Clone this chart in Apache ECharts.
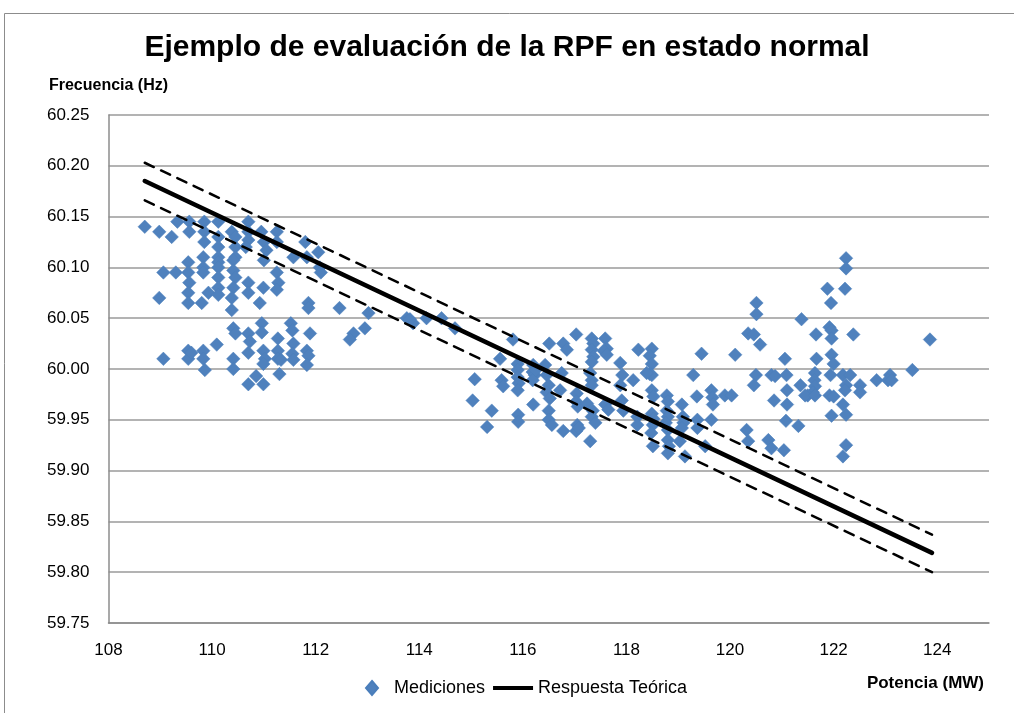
<!DOCTYPE html>
<html>
<head>
<meta charset="utf-8">
<title>Ejemplo de evaluación de la RPF en estado normal</title>
<script src="https://cdn.jsdelivr.net/npm/echarts@6/dist/echarts.min.js"></script>
<style>
  html, body { margin: 0; padding: 0; background: #fff; }
  #chart { width: 1014px; height: 713px; }
</style>
</head>
<body>
<div id="chart"></div>
<script>
const medicionesIzq = [
  [108.70, 60.140], [108.98, 60.135], [109.22, 60.130], [109.33, 60.145], [109.56, 60.145], [109.56, 60.135],
  [109.85, 60.145], [109.85, 60.135], [109.85, 60.125], [110.12, 60.145], [110.12, 60.130], [110.12, 60.120],
  [110.12, 60.110], [110.38, 60.135], [110.45, 60.130], [110.45, 60.120], [110.45, 60.110], [110.70, 60.145],
  [110.70, 60.135], [110.70, 60.127], [110.65, 60.120], [110.95, 60.135], [111.00, 60.125], [111.05, 60.117],
  [111.00, 60.107], [111.25, 60.135], [111.25, 60.125], [111.80, 60.125], [111.57, 60.110], [111.83, 60.110],
  [112.05, 60.115], [112.08, 60.100], [112.10, 60.095],
  [109.06, 60.095], [109.30, 60.095], [109.54, 60.105], [109.54, 60.095], [109.56, 60.085], [109.54, 60.075],
  [109.54, 60.065], [109.83, 60.110], [109.83, 60.100], [109.83, 60.095], [109.80, 60.065], [109.93, 60.075],
  [110.12, 60.105], [110.12, 60.100], [110.12, 60.090], [110.12, 60.080], [110.12, 60.073], [110.41, 60.107],
  [110.41, 60.097], [110.45, 60.090], [110.41, 60.080], [110.38, 60.070], [110.38, 60.058], [110.70, 60.085],
  [110.70, 60.075], [110.99, 60.080], [110.92, 60.065], [111.25, 60.095], [111.28, 60.085], [111.25, 60.078],
  [111.86, 60.065], [111.86, 60.060], [108.98, 60.070],
  [110.41, 60.040], [110.45, 60.035], [110.70, 60.035], [110.73, 60.027], [110.70, 60.016], [110.96, 60.045],
  [110.96, 60.036], [110.09, 60.024], [109.06, 60.010], [109.54, 60.018], [109.54, 60.010], [109.60, 60.016],
  [109.83, 60.018], [109.83, 60.010], [109.86, 59.999], [110.41, 60.010], [110.41, 60.000], [110.99, 60.018],
  [111.02, 60.010], [110.99, 60.005], [111.27, 60.030], [111.27, 60.018], [111.27, 60.010], [111.33, 60.009],
  [111.30, 59.995], [111.52, 60.045], [111.55, 60.038], [111.57, 60.025], [111.55, 60.015], [111.57, 60.009],
  [111.89, 60.035], [111.83, 60.018], [111.86, 60.013], [111.83, 60.004], [110.70, 59.985], [110.99, 59.985],
  [110.85, 59.993]
];

const medicionesCentro = [
  [112.46, 60.060], [113.02, 60.055], [112.95, 60.040], [112.73, 60.035], [112.66, 60.029], [113.76, 60.050],
  [113.88, 60.045], [113.82, 60.049], [114.14, 60.050], [114.43, 60.050], [114.69, 60.040], [115.07, 59.990],
  [115.56, 60.010], [115.81, 60.029], [116.51, 60.025], [116.78, 60.025], [116.85, 60.019], [117.03, 60.034],
  [117.33, 60.030], [117.36, 60.025], [117.33, 60.019], [117.36, 60.012], [117.33, 60.007], [117.59, 60.030],
  [117.62, 60.020], [117.56, 60.018], [117.62, 60.014], [118.23, 60.019], [118.49, 60.020], [118.45, 60.013],
  [118.49, 60.005], [118.45, 59.995], [118.49, 59.994], [119.45, 60.015], [119.29, 59.994],
  [115.90, 60.005], [115.90, 59.999], [115.90, 59.992], [115.92, 59.986], [115.90, 59.979], [115.03, 59.969],
  [115.40, 59.959], [115.31, 59.943], [115.59, 59.989], [115.62, 59.983], [116.20, 60.004], [116.19, 59.997],
  [116.23, 59.994], [116.19, 59.989], [116.25, 59.999], [116.43, 60.004], [116.46, 59.994], [116.50, 59.984],
  [116.46, 59.977], [116.52, 59.971], [116.50, 59.959], [116.50, 59.950], [116.56, 59.945], [116.20, 59.965],
  [115.91, 59.955], [115.91, 59.948], [116.75, 59.996], [116.72, 59.979], [116.78, 59.939], [117.04, 59.976],
  [117.03, 59.968], [117.06, 59.963], [117.05, 59.945], [117.03, 59.939], [117.08, 59.942], [117.30, 59.996],
  [117.33, 59.989], [117.33, 59.984], [117.24, 59.966], [117.35, 59.959], [117.33, 59.953], [117.40, 59.947],
  [117.30, 59.929], [117.59, 59.965], [117.65, 59.960], [117.88, 60.006], [117.92, 59.994], [117.88, 59.984],
  [117.91, 59.969], [117.94, 59.959], [118.13, 59.989], [118.21, 59.953], [118.21, 59.945], [118.39, 59.996],
  [118.49, 59.979], [118.52, 59.973], [118.49, 59.956], [118.52, 59.951], [118.51, 59.945], [118.48, 59.937],
  [118.51, 59.924], [118.78, 59.974], [118.80, 59.968], [118.78, 59.959], [118.80, 59.953], [118.76, 59.947],
  [118.80, 59.940], [118.80, 59.930], [118.82, 59.924], [118.80, 59.917], [119.07, 59.965], [119.09, 59.953],
  [119.10, 59.947], [119.07, 59.942], [119.13, 59.914], [119.37, 59.950], [119.37, 59.942], [119.36, 59.973],
  [119.03, 59.929], [119.52, 59.924]
];

const medicionesDer = [
  [120.10, 60.014], [120.35, 60.035], [119.64, 59.979], [119.66, 59.972], [119.67, 59.965], [119.64, 59.950],
  [119.90, 59.974], [120.03, 59.974], [120.32, 59.940], [120.35, 59.929],
  [122.24, 60.109], [122.24, 60.099], [121.88, 60.079], [122.22, 60.079], [121.95, 60.065], [120.51, 60.065],
  [120.51, 60.054], [121.38, 60.049], [120.46, 60.034], [120.58, 60.024], [121.66, 60.034], [121.92, 60.041],
  [121.96, 60.038], [121.96, 60.030], [122.38, 60.034], [121.06, 60.010], [121.67, 60.010], [121.96, 60.014],
  [122.00, 60.005], [120.50, 59.994], [120.46, 59.984], [120.80, 59.994], [120.87, 59.993], [121.09, 59.994],
  [121.36, 59.984], [121.64, 59.996], [121.63, 59.989], [121.64, 59.983], [121.60, 59.977], [121.50, 59.974],
  [121.45, 59.974], [121.64, 59.974], [121.94, 59.994], [121.92, 59.974], [122.00, 59.973], [122.18, 59.994],
  [122.24, 59.984], [122.22, 59.979], [122.32, 59.994], [122.51, 59.984], [122.51, 59.977], [122.83, 59.989],
  [123.09, 59.994], [123.05, 59.989], [123.12, 59.989], [123.52, 59.999], [123.86, 60.029], [120.85, 59.969],
  [121.10, 59.979], [121.10, 59.965], [122.18, 59.965], [122.24, 59.955], [121.96, 59.954], [121.08, 59.949],
  [121.32, 59.944], [120.74, 59.930], [120.80, 59.922], [121.04, 59.920], [122.24, 59.925], [122.18, 59.914]
];

// Respuesta teorica y banda de tolerancia (extremos)
const respuestaTeorica = [[108.7, 60.185], [123.9, 59.819]];
const limiteSuperior = [[108.7, 60.203], [123.9, 59.837]];
const limiteInferior = [[108.7, 60.166], [123.9, 59.800]];

const xMin = 108, xMax = 125, xInterval = 2;
const yMin = 59.75, yMax = 60.25, yInterval = 0.05;

const fuente = "'Liberation Sans', Arial, sans-serif";

const chart = echarts.init(document.getElementById('chart'));

chart.setOption({
  animation: false,
  backgroundColor: '#fff',
  title: {
    text: 'Ejemplo de evaluación de la RPF en estado normal',
    left: 'center',
    top: 28,
    textStyle: {
      fontFamily: fuente,
      fontWeight: 'bold',
      fontSize: 30,
      color: '#000'
    }
  },
  grid: {
    left: 108.5,
    right: 25,
    top: 115,
    bottom: 90,
    containLabel: false
  },
  legend: {
    left: 343,
    top: 674,
    itemGap: 8,
    itemWidth: 40,
    itemHeight: 14,
    textStyle: { fontFamily: fuente, fontSize: 18, color: '#000' },
    data: [
      // rombo con caja invisible de 40x14
      { name: 'Mediciones', icon: 'path://M0,0 M40,14 M23,0L29,7L23,14L17,7Z' },
      { name: 'Respuesta Teórica', icon: 'path://M0,0 M40,14 M0,5H40V9H0Z' }
    ]
  },
  xAxis: {
    type: 'value',
    min: xMin,
    max: xMax,
    interval: xInterval,
    name: 'Potencia (MW)',
    nameLocation: 'end',
    nameGap: -5,
    nameTextStyle: {
      fontFamily: fuente,
      fontWeight: 'bold',
      fontSize: 17,
      color: '#000',
      align: 'right',
      verticalAlign: 'top',
      padding: [52, 0, 0, 0]
    },
    axisLine: { show: true, lineStyle: { color: '#8c8c8c', width: 1.5 } },
    axisTick: { show: false },
    splitLine: { show: false },
    axisLabel: {
      showMaxLabel: false,
      margin: 19,
      fontFamily: fuente,
      fontSize: 17,
      color: '#000'
    }
  },
  yAxis: {
    type: 'value',
    min: yMin,
    max: yMax,
    interval: yInterval,
    name: 'Frecuencia (Hz)',
    nameLocation: 'end',
    nameGap: 21,
    nameTextStyle: {
      fontFamily: fuente,
      fontWeight: 'bold',
      fontSize: 16,
      color: '#000'
    },
    axisLine: { show: true, lineStyle: { color: '#8c8c8c', width: 1.5 } },
    axisTick: { show: false },
    splitLine: { show: true, lineStyle: { color: '#9a9a9a', width: 1.5 } },
    axisLabel: {
      margin: 19,
      fontFamily: fuente,
      fontSize: 17,
      color: '#000',
      formatter: v => v.toFixed(2)
    }
  },
  graphic: [{
    type: 'rect',
    silent: true,
    shape: { x: 4.5, y: 13.5, width: 1040, height: 740 },
    style: { fill: 'none', stroke: '#8c8c8c', lineWidth: 1 }
  }],
  series: [
    {
      name: 'Mediciones',
      type: 'scatter',
      symbol: 'diamond',
      symbolSize: 13.5,
      itemStyle: { color: '#4F81BD', opacity: 1, borderColor: '#4A7EBB', borderWidth: 0.5 },
      data: medicionesIzq.concat(medicionesCentro, medicionesDer),
      z: 2
    },
    {
      name: 'Respuesta Teórica',
      type: 'line',
      symbol: 'none',
      color: '#000',
      lineStyle: { color: '#000', width: 4.5, cap: 'round' },
      data: respuestaTeorica,
      z: 3
    },
    {
      name: 'Límite superior',
      type: 'line',
      symbol: 'none',
      lineStyle: { color: '#000', width: 2.5, type: [10, 8], cap: 'round' },
      data: limiteSuperior,
      z: 3
    },
    {
      name: 'Límite inferior',
      type: 'line',
      symbol: 'none',
      lineStyle: { color: '#000', width: 2.5, type: [10, 8], cap: 'round' },
      data: limiteInferior,
      z: 3
    }
  ]
});
</script>
</body>
</html>
